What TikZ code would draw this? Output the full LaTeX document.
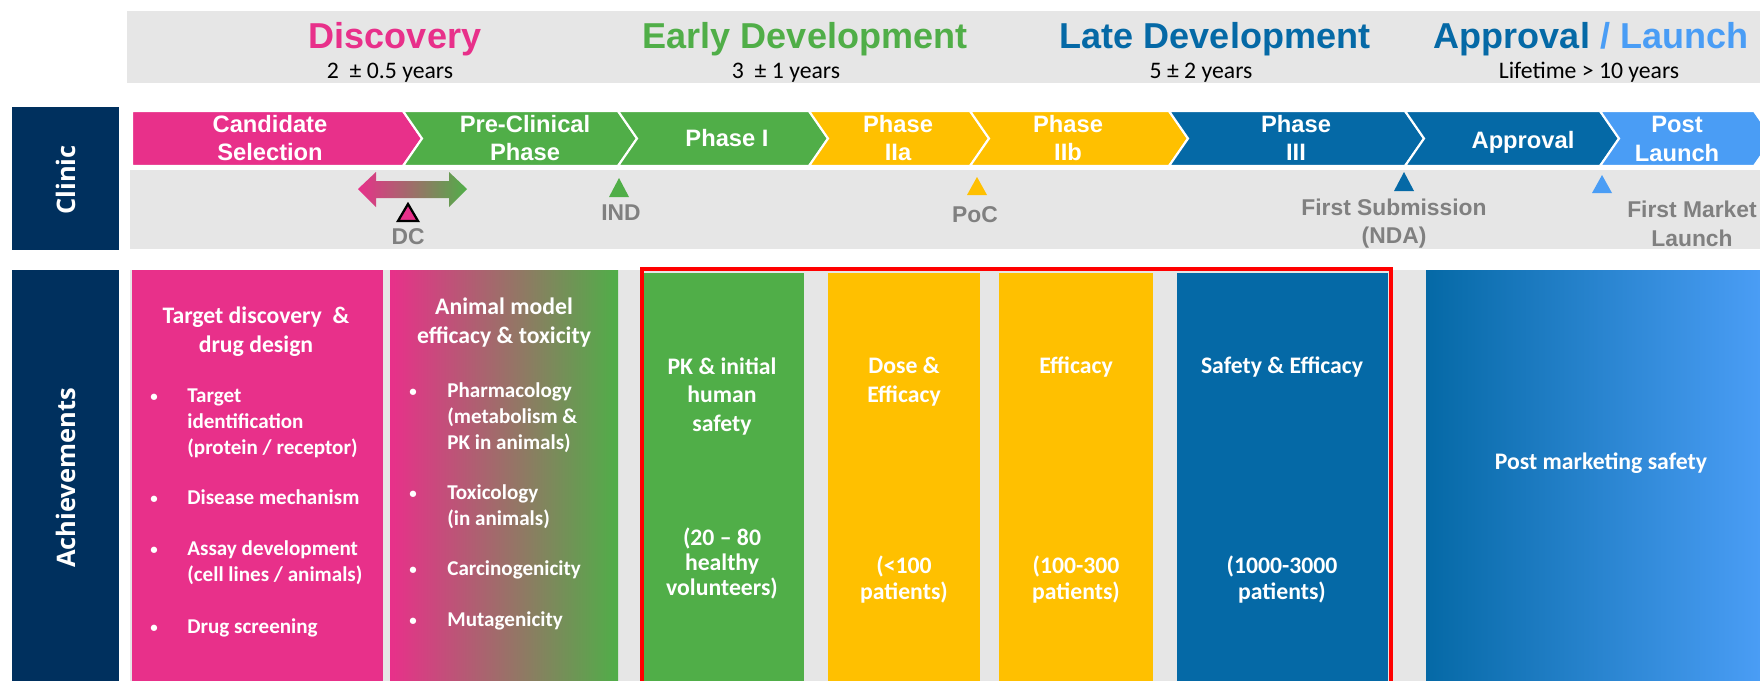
\documentclass[tikz,border=0pt]{standalone}
\usepackage{fontspec}
\setmainfont{Carlito}
\newfontfamily\arialfont{Liberation Sans}
\newfontfamily\sidefont{Open Sans}

\definecolor{pinkC}{RGB}{232,48,138}
\definecolor{greenC}{RGB}{80,174,72}
\definecolor{yellowC}{RGB}{255,192,0}
\definecolor{blueC}{RGB}{5,105,166}
\definecolor{skyC}{RGB}{74,157,245}
\definecolor{navyC}{RGB}{0,48,94}
\definecolor{bgGray}{RGB}{230,230,230}
\definecolor{txtGray}{RGB}{128,128,128}

\tikzset{
  phasetitle/.style={font=\arialfont\bfseries\fontsize{20.5}{24}\selectfont, inner sep=0, anchor=base},
  duration/.style={font=\fontsize{13.5}{16}\selectfont, inner sep=0, anchor=base},
  chev/.style={draw=white, line width=1.2pt},
  chevlabel/.style={text=white, font=\arialfont\bfseries\fontsize{13.5}{16}\selectfont, align=center, inner sep=0},
  milestonelabel/.style={text=txtGray, font=\arialfont\bfseries\fontsize{13}{16.4}\selectfont, align=center, inner sep=0},
  rowlabel/.style={text=white, rotate=90, font=\sidefont\bfseries\fontsize{14.5}{17}\selectfont, inner sep=0},
  colhead/.style={text=white, font=\bfseries\fontsize{13.5}{16.4}\selectfont, align=center, inner sep=0},
  colnote/.style={text=white, font=\bfseries\fontsize{13.5}{14.4}\selectfont, align=center, inner sep=0},
  % multi-line items sit on the baseline of their last line
  bulletitem/.style={text=white, font=\bfseries\fontsize{12}{14.7}\selectfont, align=left, inner sep=0, anchor=base west},
  bulletdot/.style={text=white, font=\bfseries\fontsize{8.5}{10}\selectfont, inner sep=0, anchor=base},
}

\begin{document}
\begin{tikzpicture}[x=0.02cm, y=-0.02cm]
  \useasboundingbox (0,0) rectangle (1760,680);
  \clip (0,0) rectangle (1760,680);

  % stage headers
  \fill[bgGray] (127,11) rectangle (1760,83);
  \node[phasetitle, text=pinkC] (disc) at (395,48) {Discovery};
  \node[phasetitle, text=greenC] (early) at (805,48) {Early Development};
  \node[phasetitle, text=blueC] (late) at (1215,48) {Late Development};
  \node[phasetitle] (launch) at (1591,48) {\textcolor{blueC}{Approval} \textcolor{skyC}{/ Launch}};
  \node[duration] (discyrs) at (390,78) {2\ \ ± 0.5 years};
  \node[duration] (earlyyrs) at (786,78) {3\ \ ± 1 years};
  \node[duration] (lateyrs) at (1201,78) {5 ± 2 years};
  \node[duration] (launchyrs) at (1589,78) {Lifetime > 10 years};

  % clinic row
  \fill[navyC] (12,107) rectangle (119,250);
  \node[rowlabel] (clinic) at (66,180) {Clinic};
  \path[fill=pinkC, chev] (132,111) -- (403,111) -- (422,138.5) -- (403,166) -- (132,166) -- cycle;
  \foreach \a/\b/\c in {403/618/greenC, 618/809/greenC, 809/970/yellowC, 970/1169/yellowC,
                        1169/1405/blueC, 1405/1600/blueC, 1600/1754/skyC}
    \path[fill=\c, chev] (\a,111) -- (\b,111) -- ++(19,27.5) -- (\b,166) -- (\a,166) -- ++(19,-27.5) -- cycle;
  \node[chevlabel] (cand) at (270,138) {Candidate\\Selection};
  \node[chevlabel] (precl) at (525,138) {Pre-Clinical\\Phase};
  \node[chevlabel] (ph1) at (727,138) {Phase I};
  \node[chevlabel] (ph2a) at (898,138) {Phase\\IIa};
  \node[chevlabel] (ph2b) at (1068,138) {Phase\\IIb};
  \node[chevlabel] (ph3) at (1296,138) {Phase\\III};
  \node[chevlabel] (appr) at (1523,142) {Approval};
  \node[chevlabel] (post) at (1677,139) {Post\\Launch};

  % milestones
  \fill[bgGray] (130,170) rectangle (1760,249);
  \shade[left color=pinkC, right color=greenC] (358,189) -- (376,172) -- (376,181) -- (449,181)
    -- (449,172) -- (467,189) -- (449,207) -- (449,198) -- (376,198) -- (376,207) -- cycle;
  \filldraw[fill=pinkC, draw=black, line width=1.3pt] (408,204) -- (418,221) -- (398,221) -- cycle;
  \fill[greenC] (619,178) -- (629,197) -- (609,197) -- cycle;
  \fill[yellowC] (977,177) -- (987,195) -- (967,195) -- cycle;
  \fill[blueC] (1404,172) -- (1414,191) -- (1394,191) -- cycle;
  \fill[skyC] (1602,175) -- (1612,193) -- (1592,193) -- cycle;
  \node[milestonelabel] (dc) at (408,237) {DC};
  \node[milestonelabel] (ind) at (621,213) {IND};
  \node[milestonelabel] (poc) at (975,215) {PoC};
  \node[milestonelabel] (nda) at (1394,223.5) {First Submission\\(NDA)};
  \node[milestonelabel] (market) at (1692,223.5) {First Market\\Launch};

  % achievements row
  \fill[navyC] (12,270) rectangle (119,690);
  \node[rowlabel] (achv) at (66,478) {Achievements};
  \fill[bgGray] (130,270) rectangle (1760,690);
  \fill[pinkC] (132,270) rectangle (383,690);
  \shade[left color=pinkC, right color=greenC] (390,270) rectangle (618,690);
  \fill[greenC] (644,273) rectangle (804,690);
  \fill[yellowC] (828,273) rectangle (980,690);
  \fill[yellowC] (999,273) rectangle (1153,690);
  \fill[blueC] (1177,273) rectangle (1388,690);
  \shade[left color=blueC, right color=skyC] (1426,270) rectangle (1760,690);
  \draw[red, line width=2.6pt] (642,269) rectangle (1391,700);

  \node[colhead] (disctop) at (256,332) {Target discovery\ \ \&\\drug design};
  \foreach \y in {401,503,554,632}
    \node[bulletdot] at (154,\y) {•};
  \node[bulletitem] (tgt) at (187,454) {Target\\identification\\(protein / receptor)};
  \node[bulletitem] (mech) at (187,504) {Disease mechanism};
  \node[bulletitem] (assay) at (187,581) {Assay development\\(cell lines / animals)};
  \node[bulletitem] (screen) at (187,633) {Drug screening};

  \node[colhead] (animtop) at (504,322.5) {Animal model\\efficacy \& toxicity};
  \foreach \y in {396,498,574,625}
    \node[bulletdot] at (413,\y) {•};
  \node[bulletitem] (pharm) at (447,449) {Pharmacology\\(metabolism \&\\PK in animals)};
  \node[bulletitem] (tox) at (447,525) {Toxicology\\(in animals)};
  \node[bulletitem] (carc) at (447,575) {Carcinogenicity};
  \node[bulletitem] (muta) at (447,626) {Mutagenicity};

  \node[colhead] (p1top) at (722,396.5) {PK \& initial\\human\\safety};
  \node[colnote] (p1n) at (722,563.5) {(20 – 80\\healthy\\volunteers)};
  \node[colhead] (p2atop) at (904,382) {Dose \&\\Efficacy};
  \node[colnote] (p2an) at (904,579.5) {(<100\\patients)};
  \node[colhead] (p2btop) at (1076,367) {Efficacy};
  \node[colnote] (p2bn) at (1076,579.5) {(100-300\\patients)};
  \node[colhead] (p3top) at (1282,367) {Safety \& Efficacy};
  \node[colnote] (p3n) at (1282,579.5) {(1000-3000\\patients)};
  \node[colhead] (pmkt) at (1601,463) {Post marketing safety};
\end{tikzpicture}
\end{document}
